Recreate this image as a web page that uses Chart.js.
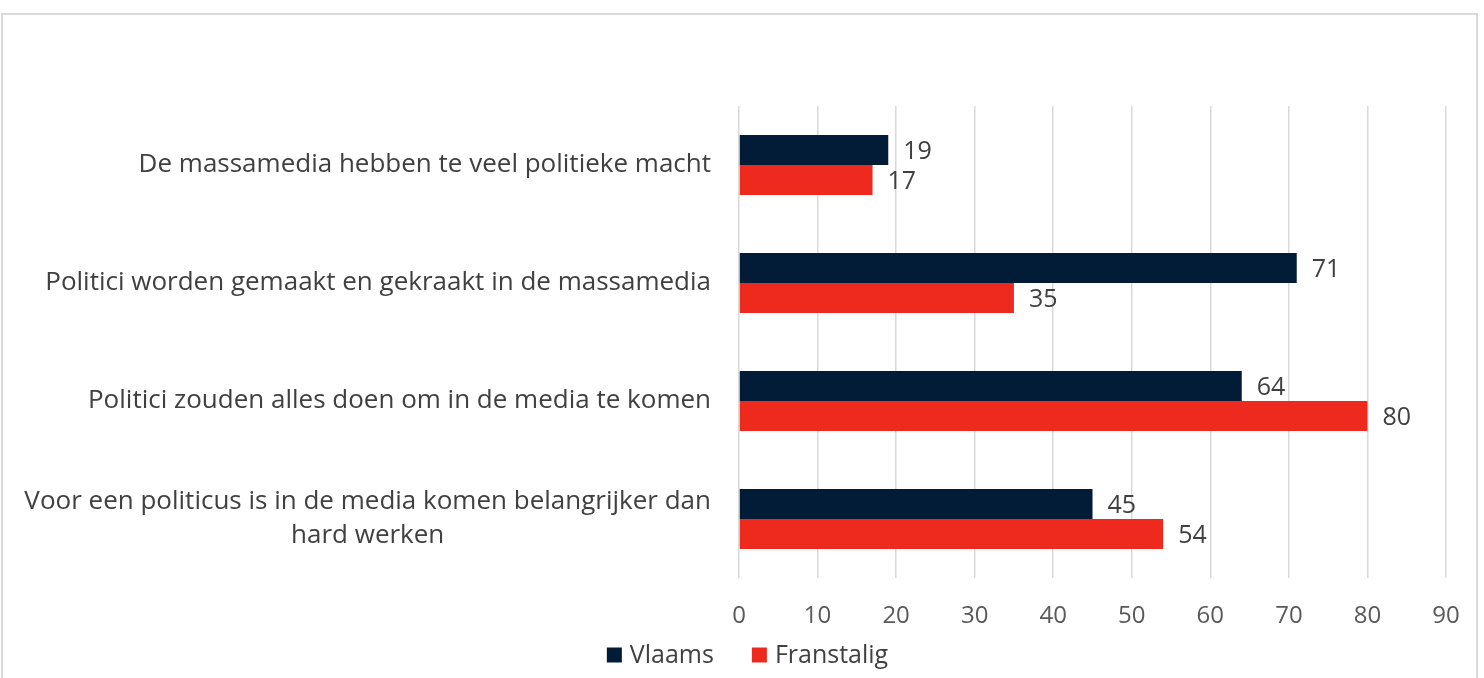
<!DOCTYPE html>
<html>
<head>
<meta charset="utf-8">
<script src="https://cdn.jsdelivr.net/npm/chart.js@4.4.0/dist/chart.umd.min.js"></script>
<style>
  html, body { margin: 0; padding: 0; background: #fff; overflow: hidden; }
  #frame {
    position: absolute; left: 1px; top: 13px; width: 1477px; height: 700px;
    border: 2px solid #d9d9d9; box-sizing: border-box;
  }
  #wrap { position: absolute; left: 0; top: 0; width: 1484px; height: 678px; }
</style>
</head>
<body>
<div id="frame"></div>
<div id="wrap"><canvas id="chart"></canvas></div>
<script>
const categories = [
  ['De massamedia hebben te veel politieke macht'],
  ['Politici worden gemaakt en gekraakt in de massamedia'],
  ['Politici zouden alles doen om in de media te komen'],
  ['Voor een politicus is in de media komen belangrijker dan', 'hard werken']
];
const vlaams = [19, 71, 64, 45];
const franstalig = [17, 35, 80, 54];
const xTicks = [0, 10, 20, 30, 40, 50, 60, 70, 80, 90];

const FONT = '"Open Sans", sans-serif';

// labels at the end of each bar
const valueLabels = {
  id: 'valueLabels',
  afterDatasetsDraw(chart) {
    const ctx = chart.ctx;
    ctx.save();
    ctx.font = '25px ' + FONT;
    ctx.fillStyle = '#404040';
    ctx.textAlign = 'left';
    ctx.textBaseline = 'middle';
    chart.data.datasets.forEach((ds, i) => {
      chart.getDatasetMeta(i).data.forEach((bar, j) => {
        ctx.fillText(ds.data[j], bar.x + 15, bar.y + 2);
      });
    });
    ctx.restore();
  }
};

// category labels: block right aligned, lines centred inside the block
const categoryLabels = {
  id: 'categoryLabels',
  afterDraw(chart) {
    const ctx = chart.ctx;
    const yScale = chart.scales.y;
    ctx.save();
    ctx.font = '26px ' + FONT;
    ctx.fillStyle = '#404040';
    ctx.textBaseline = 'middle';
    ctx.textAlign = 'center';
    const right = 711;
    const lineH = 34;
    categories.forEach((lines, i) => {
      const yc = yScale.getPixelForTick(i);
      const w = Math.max(...lines.map(l => ctx.measureText(l).width));
      const cx = right - w / 2;
      lines.forEach((l, k) => {
        ctx.fillText(l, cx, yc + (k - (lines.length - 1) / 2) * lineH);
      });
    });
    ctx.restore();
  }
};

// legend under the axis, square markers, wide gap between items
const bottomLegend = {
  id: 'bottomLegend',
  afterDraw(chart) {
    const ctx = chart.ctx;
    const box = 15, gapText = 8, gapItem = 38;
    ctx.save();
    ctx.font = '25px ' + FONT;
    ctx.textBaseline = 'middle';
    ctx.textAlign = 'left';
    const items = chart.data.datasets.map(ds => ({
      text: ds.label, color: ds.backgroundColor, w: ctx.measureText(ds.label).width
    }));
    const total = items.reduce((s, it) => s + box + gapText + it.w, 0) + gapItem * (items.length - 1);
    let x = (49 + chart.width - 38) / 2 - total / 2;
    const y = 655;
    items.forEach(it => {
      ctx.fillStyle = it.color;
      ctx.fillRect(x, y - box / 2, box, box);
      ctx.fillStyle = '#404040';
      ctx.fillText(it.text, x + box + gapText, y + 1);
      x += box + gapText + it.w + gapItem;
    });
    ctx.restore();
  }
};

new Chart(document.getElementById('chart'), {
  type: 'bar',
  data: {
    labels: categories,
    datasets: [
      { label: 'Vlaams', data: vlaams, backgroundColor: '#021b36', borderWidth: 0 },
      { label: 'Franstalig', data: franstalig, backgroundColor: '#ee2a1e', borderWidth: 0 }
    ]
  },
  options: {
    indexAxis: 'y',
    responsive: true,
    maintainAspectRatio: false,
    animation: false,
    layout: { padding: { left: 49, right: 38, top: 106, bottom: 46 } },
    datasets: { bar: { barPercentage: 1.0, categoryPercentage: 0.51 } },
    scales: {
      x: {
        min: 0,
        max: 90,
        afterBuildTicks(scale) { scale.ticks = xTicks.map(v => ({ value: v })); },
        afterFit(scale) { scale.height = 54; },
        grid: { color: '#d9d9d9', lineWidth: 1.5, drawTicks: false },
        border: { display: false },
        ticks: { color: '#595959', font: { family: FONT, size: 24 }, padding: 24 }
      },
      y: {
        afterFit(scale) { scale.width = 690; },
        grid: { display: false },
        border: { display: false },
        ticks: { display: false }
      }
    },
    plugins: {
      legend: { display: false },
      tooltip: { enabled: false }
    }
  },
  plugins: [valueLabels, categoryLabels, bottomLegend]
});
</script>
</body>
</html>
